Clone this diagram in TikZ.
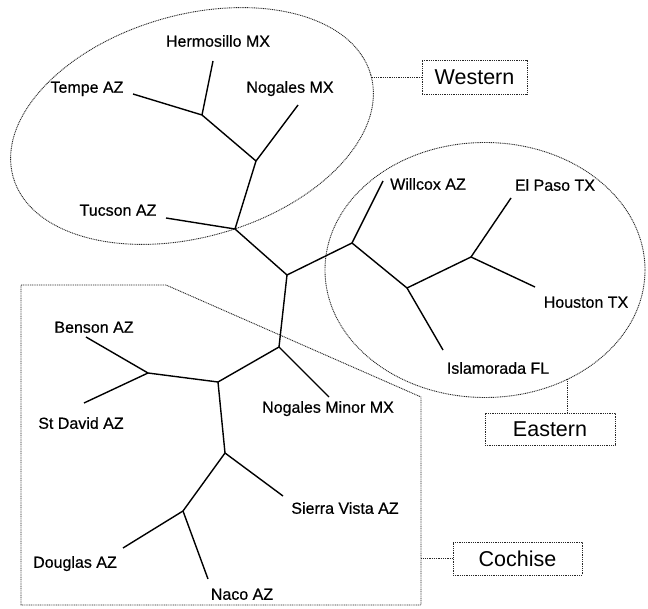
\documentclass[tikz,border=0pt]{standalone}
\usepackage{fontspec}
\setmainfont{Liberation Sans}
\newfontfamily\leaffont{Liberation Sans}[FakeBold=0.5]
\usetikzlibrary{shapes.geometric}
\begin{document}
\begin{tikzpicture}[x=1pt,y=-1pt,
  branch/.style={line width=1.4pt, black},
  leaf/.style={font=\leaffont\fontsize{16}{18}\selectfont, inner sep=0pt, text height=11.5pt, text depth=0pt},
  grp/.style={draw=black!85, line width=0.9pt, dash pattern=on 1pt off 0.8pt},
  grpbox/.style={grp, font=\fontsize{21.5}{24}\selectfont, inner sep=0pt, outer sep=0pt, text height=15.5pt, text depth=0pt},
  grpell/.style={ellipse, grp, inner sep=0pt, outer sep=0pt},
]
\useasboundingbox (0,0) rectangle (648,609);

% group outlines
\node[grpell, minimum width=372pt, minimum height=222pt, rotate=16] (wg) at (192,126) {};
\node[grpell, minimum width=320pt, minimum height=255pt] (eg) at (485,270) {};
\coordinate (c1) at (21,285);
\coordinate (c2) at (166,285);
\coordinate (c3) at (421,397);
\coordinate (c4) at (421,605);
\coordinate (c5) at (21,605);
\draw[grp] (c1) -- (c2) -- (c3) -- (c4) -- (c5) -- cycle;

% group labels
\node[grpbox, minimum width=105pt, minimum height=34pt] (wbox) at (474.5,77) {Western};
\node[grpbox, minimum width=130pt, minimum height=32pt] (ebox) at (550,429) {Eastern};
\node[grpbox, minimum width=129pt, minimum height=33pt] (cbox) at (517.5,558.5) {Cochise};
\draw[grp] (wbox.west) -- (wbox.west -| wg.east);
\draw[grp] (eg.-53.6) -- (eg.-53.6 |- ebox.north);
\draw[grp] (cbox.west) -- (cbox.west -| c4);

% tree internal nodes
\coordinate (A) at (202,115);
\coordinate (B) at (256,161);
\coordinate (C) at (235,229);
\coordinate (D) at (287,275);
\coordinate (E) at (352,243);
\coordinate (F) at (407,288);
\coordinate (G) at (471,257);
\coordinate (H) at (279,347);
\coordinate (I) at (218,382);
\coordinate (J) at (148,373);
\coordinate (K) at (225,453);
\coordinate (L) at (183,511);
% leaf ends
\coordinate (tempe) at (133,94);
\coordinate (herm) at (213,61);
\coordinate (nog) at (298,105);
\coordinate (tucson) at (166,218);
\coordinate (willcox) at (383,181);
\coordinate (islam) at (443,350);
\coordinate (elpaso) at (511,198);
\coordinate (houston) at (535,287);
\coordinate (nogmin) at (329,397);
\coordinate (benson) at (86,337);
\coordinate (stdavid) at (84,403);
\coordinate (sierra) at (283,496);
\coordinate (douglas) at (123,548);
\coordinate (naco) at (208,579);

% branches
\draw[branch] (A) -- (tempe);
\draw[branch] (A) -- (herm);
\draw[branch] (A) -- (B);
\draw[branch] (B) -- (nog);
\draw[branch] (B) -- (C);
\draw[branch] (C) -- (tucson);
\draw[branch] (C) -- (D);
\draw[branch] (D) -- (E);
\draw[branch] (E) -- (willcox);
\draw[branch] (E) -- (F);
\draw[branch] (F) -- (islam);
\draw[branch] (F) -- (G);
\draw[branch] (G) -- (elpaso);
\draw[branch] (G) -- (houston);
\draw[branch] (D) -- (H);
\draw[branch] (H) -- (nogmin);
\draw[branch] (H) -- (I);
\draw[branch] (I) -- (J);
\draw[branch] (J) -- (benson);
\draw[branch] (J) -- (stdavid);
\draw[branch] (I) -- (K);
\draw[branch] (K) -- (sierra);
\draw[branch] (K) -- (L);
\draw[branch] (L) -- (douglas);
\draw[branch] (L) -- (naco);

% leaf labels
\node[leaf] (lherm) at (218,41) {Hermosillo MX};
\node[leaf] (ltempe) at (87,87) {Tempe AZ};
\node[leaf] (lnog) at (290,87) {Nogales MX};
\node[leaf] (ltucson) at (118,210) {Tucson AZ};
\node[leaf] (lwillcox) at (428,184) {Willcox AZ};
\node[leaf] (lelpaso) at (555,185) {El Paso TX};
\node[leaf] (lhouston) at (586,302) {Houston TX};
\node[leaf] (lislam) at (498,368) {Islamorada FL};
\node[leaf] (lbenson) at (94,327) {Benson AZ};
\node[leaf] (lstdavid) at (81,423) {St David AZ};
\node[leaf] (lnogmin) at (328,407) {Nogales Minor MX};
\node[leaf] (lsierra) at (345,508) {Sierra Vista AZ};
\node[leaf] (ldouglas) at (75,562) {Douglas AZ};
\node[leaf] (lnaco) at (242,594) {Naco AZ};
\end{tikzpicture}
\end{document}
